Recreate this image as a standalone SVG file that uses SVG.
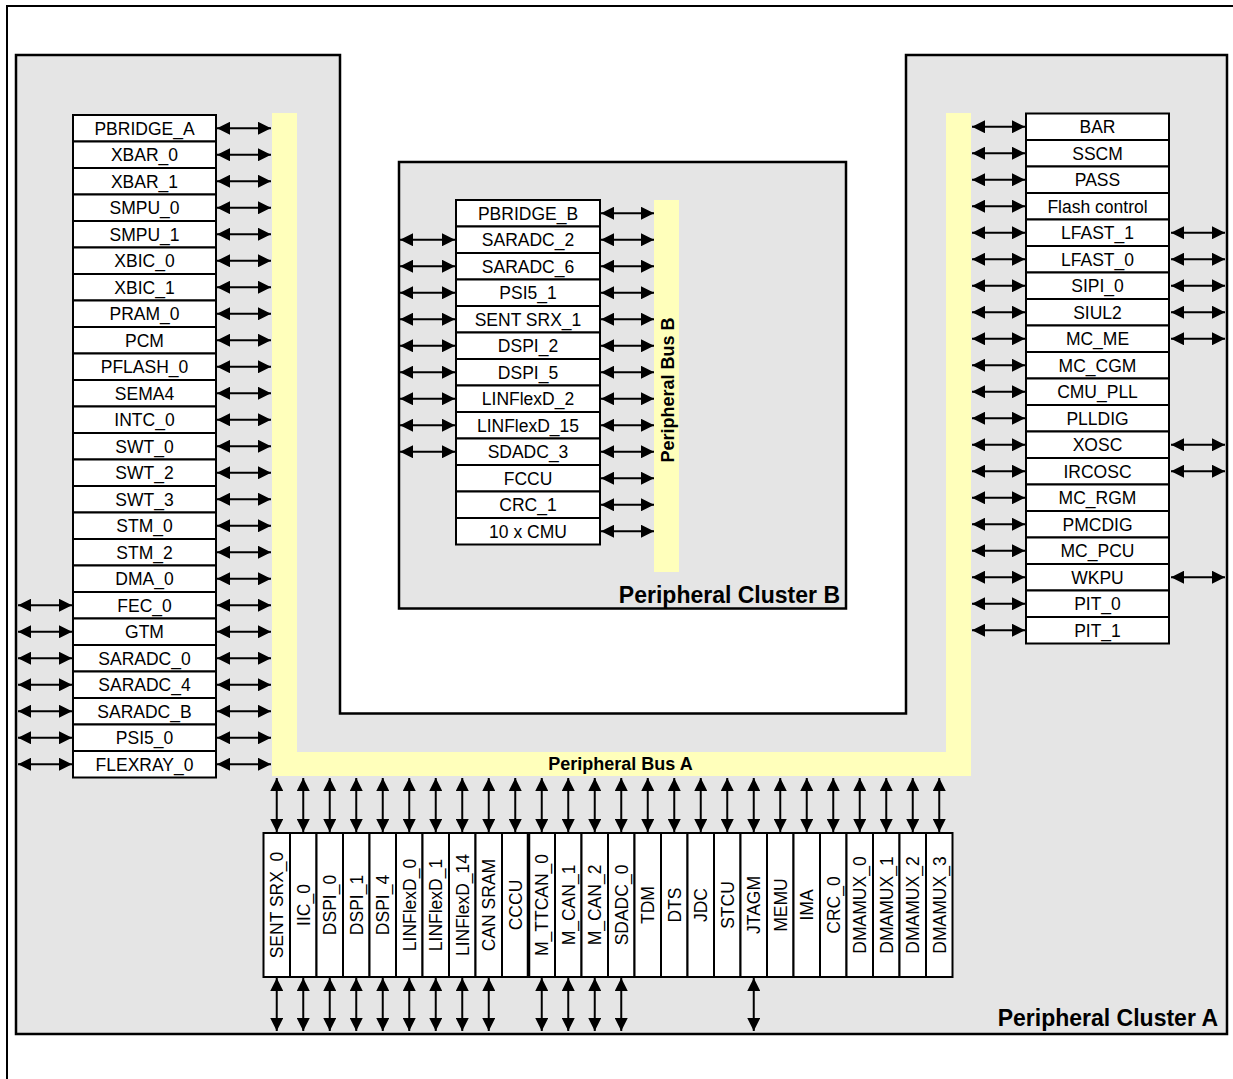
<svg xmlns="http://www.w3.org/2000/svg" width="1233" height="1079" viewBox="0 0 1233 1079">
<style>
.box{fill:#fff;stroke:#000;stroke-width:2}
.lbl{font-family:"Liberation Sans",Arial,sans-serif;font-size:17.5px;text-anchor:middle;fill:#000}
.big{font-family:"Liberation Sans",Arial,sans-serif;font-weight:bold;font-size:23px;text-anchor:end;fill:#000}
.bus{font-family:"Liberation Sans",Arial,sans-serif;font-weight:bold;font-size:18px;text-anchor:middle;fill:#000}
.cl{fill:#e5e5e5;stroke:#000;stroke-width:2.5}
.yb{fill:#ffffbb}
.cn line{stroke:#000;stroke-width:2;marker-start:url(#ah);marker-end:url(#ah)}
</style>
<defs>
<marker id="ah" viewBox="0 0 13 13" markerWidth="13" markerHeight="13" markerUnits="userSpaceOnUse" refX="13" refY="6.5" orient="auto-start-reverse">
<path d="M0,0 L13,6.5 L0,13 z" fill="#000"/>
</marker>
</defs>
<rect x="0" y="0" width="1233" height="1079" fill="#fff"/>
<rect x="7" y="6" width="1240" height="1100" fill="none" stroke="#000" stroke-width="2"/>
<g id="cluster-a">
<polygon class="cl" points="16,55 340,55 340,713.5 906,713.5 906,55 1227,55 1227,1034 16,1034"/>
<text class="big" x="1218" y="1026">Peripheral Cluster A</text>
</g>
<g id="cluster-b">
<rect class="cl" x="399" y="162" width="447" height="446.5"/>
<text class="big" x="840" y="603">Peripheral Cluster B</text>
</g>
<g id="bus-a">
<path class="yb" d="M272,113 H297 V752 H946 V113 H971 V776 H272 Z"/>
<text class="bus" x="620.5" y="770">Peripheral Bus A</text>
</g>
<g id="bus-b">
<rect class="yb" x="654" y="200" width="25" height="372"/>
<text class="bus" transform="translate(673.5,390) rotate(-90)">Peripheral Bus B</text>
</g>
<g id="left-list">
<g id="n-pbridge_a"><rect class="box" x="73" y="115" width="143" height="26.5"/><text class="lbl" x="144.5" y="134.75">PBRIDGE_A</text></g>
<g id="n-xbar_0"><rect class="box" x="73" y="141.5" width="143" height="26.5"/><text class="lbl" x="144.5" y="161.25">XBAR_0</text></g>
<g id="n-xbar_1"><rect class="box" x="73" y="168" width="143" height="26.5"/><text class="lbl" x="144.5" y="187.75">XBAR_1</text></g>
<g id="n-smpu_0"><rect class="box" x="73" y="194.5" width="143" height="26.5"/><text class="lbl" x="144.5" y="214.25">SMPU_0</text></g>
<g id="n-smpu_1"><rect class="box" x="73" y="221" width="143" height="26.5"/><text class="lbl" x="144.5" y="240.75">SMPU_1</text></g>
<g id="n-xbic_0"><rect class="box" x="73" y="247.5" width="143" height="26.5"/><text class="lbl" x="144.5" y="267.25">XBIC_0</text></g>
<g id="n-xbic_1"><rect class="box" x="73" y="274" width="143" height="26.5"/><text class="lbl" x="144.5" y="293.75">XBIC_1</text></g>
<g id="n-pram_0"><rect class="box" x="73" y="300.5" width="143" height="26.5"/><text class="lbl" x="144.5" y="320.25">PRAM_0</text></g>
<g id="n-pcm"><rect class="box" x="73" y="327" width="143" height="26.5"/><text class="lbl" x="144.5" y="346.75">PCM</text></g>
<g id="n-pflash_0"><rect class="box" x="73" y="353.5" width="143" height="26.5"/><text class="lbl" x="144.5" y="373.25">PFLASH_0</text></g>
<g id="n-sema4"><rect class="box" x="73" y="380" width="143" height="26.5"/><text class="lbl" x="144.5" y="399.75">SEMA4</text></g>
<g id="n-intc_0"><rect class="box" x="73" y="406.5" width="143" height="26.5"/><text class="lbl" x="144.5" y="426.25">INTC_0</text></g>
<g id="n-swt_0"><rect class="box" x="73" y="433" width="143" height="26.5"/><text class="lbl" x="144.5" y="452.75">SWT_0</text></g>
<g id="n-swt_2"><rect class="box" x="73" y="459.5" width="143" height="26.5"/><text class="lbl" x="144.5" y="479.25">SWT_2</text></g>
<g id="n-swt_3"><rect class="box" x="73" y="486" width="143" height="26.5"/><text class="lbl" x="144.5" y="505.75">SWT_3</text></g>
<g id="n-stm_0"><rect class="box" x="73" y="512.5" width="143" height="26.5"/><text class="lbl" x="144.5" y="532.25">STM_0</text></g>
<g id="n-stm_2"><rect class="box" x="73" y="539" width="143" height="26.5"/><text class="lbl" x="144.5" y="558.75">STM_2</text></g>
<g id="n-dma_0"><rect class="box" x="73" y="565.5" width="143" height="26.5"/><text class="lbl" x="144.5" y="585.25">DMA_0</text></g>
<g id="n-fec_0"><rect class="box" x="73" y="592" width="143" height="26.5"/><text class="lbl" x="144.5" y="611.75">FEC_0</text></g>
<g id="n-gtm"><rect class="box" x="73" y="618.5" width="143" height="26.5"/><text class="lbl" x="144.5" y="638.25">GTM</text></g>
<g id="n-saradc_0"><rect class="box" x="73" y="645" width="143" height="26.5"/><text class="lbl" x="144.5" y="664.75">SARADC_0</text></g>
<g id="n-saradc_4"><rect class="box" x="73" y="671.5" width="143" height="26.5"/><text class="lbl" x="144.5" y="691.25">SARADC_4</text></g>
<g id="n-saradc_b"><rect class="box" x="73" y="698" width="143" height="26.5"/><text class="lbl" x="144.5" y="717.75">SARADC_B</text></g>
<g id="n-psi5_0"><rect class="box" x="73" y="724.5" width="143" height="26.5"/><text class="lbl" x="144.5" y="744.25">PSI5_0</text></g>
<g id="n-flexray_0"><rect class="box" x="73" y="751" width="143" height="26.5"/><text class="lbl" x="144.5" y="770.75">FLEXRAY_0</text></g>
</g>
<g id="b-list">
<g id="n-pbridge_b"><rect class="box" x="456" y="200" width="144" height="26.5"/><text class="lbl" x="528" y="219.75">PBRIDGE_B</text></g>
<g id="n-saradc_2"><rect class="box" x="456" y="226.5" width="144" height="26.5"/><text class="lbl" x="528" y="246.25">SARADC_2</text></g>
<g id="n-saradc_6"><rect class="box" x="456" y="253" width="144" height="26.5"/><text class="lbl" x="528" y="272.75">SARADC_6</text></g>
<g id="n-psi5_1"><rect class="box" x="456" y="279.5" width="144" height="26.5"/><text class="lbl" x="528" y="299.25">PSI5_1</text></g>
<g id="n-sent_srx_1"><rect class="box" x="456" y="306" width="144" height="26.5"/><text class="lbl" x="528" y="325.75">SENT SRX_1</text></g>
<g id="n-dspi_2"><rect class="box" x="456" y="332.5" width="144" height="26.5"/><text class="lbl" x="528" y="352.25">DSPI_2</text></g>
<g id="n-dspi_5"><rect class="box" x="456" y="359" width="144" height="26.5"/><text class="lbl" x="528" y="378.75">DSPI_5</text></g>
<g id="n-linflexd_2"><rect class="box" x="456" y="385.5" width="144" height="26.5"/><text class="lbl" x="528" y="405.25">LINFlexD_2</text></g>
<g id="n-linflexd_15"><rect class="box" x="456" y="412" width="144" height="26.5"/><text class="lbl" x="528" y="431.75">LINFlexD_15</text></g>
<g id="n-sdadc_3"><rect class="box" x="456" y="438.5" width="144" height="26.5"/><text class="lbl" x="528" y="458.25">SDADC_3</text></g>
<g id="n-fccu"><rect class="box" x="456" y="465" width="144" height="26.5"/><text class="lbl" x="528" y="484.75">FCCU</text></g>
<g id="n-crc_1"><rect class="box" x="456" y="491.5" width="144" height="26.5"/><text class="lbl" x="528" y="511.25">CRC_1</text></g>
<g id="n-10xcmu"><rect class="box" x="456" y="518" width="144" height="26.5"/><text class="lbl" x="528" y="537.75">10 x CMU</text></g>
</g>
<g id="right-list">
<g id="n-bar"><rect class="box" x="1026" y="113.5" width="143" height="26.5"/><text class="lbl" x="1097.5" y="133.25">BAR</text></g>
<g id="n-sscm"><rect class="box" x="1026" y="140" width="143" height="26.5"/><text class="lbl" x="1097.5" y="159.75">SSCM</text></g>
<g id="n-pass"><rect class="box" x="1026" y="166.5" width="143" height="26.5"/><text class="lbl" x="1097.5" y="186.25">PASS</text></g>
<g id="n-flash"><rect class="box" x="1026" y="193" width="143" height="26.5"/><text class="lbl" x="1097.5" y="212.75">Flash control</text></g>
<g id="n-lfast_1"><rect class="box" x="1026" y="219.5" width="143" height="26.5"/><text class="lbl" x="1097.5" y="239.25">LFAST_1</text></g>
<g id="n-lfast_0"><rect class="box" x="1026" y="246" width="143" height="26.5"/><text class="lbl" x="1097.5" y="265.75">LFAST_0</text></g>
<g id="n-sipi_0"><rect class="box" x="1026" y="272.5" width="143" height="26.5"/><text class="lbl" x="1097.5" y="292.25">SIPI_0</text></g>
<g id="n-siul2"><rect class="box" x="1026" y="299" width="143" height="26.5"/><text class="lbl" x="1097.5" y="318.75">SIUL2</text></g>
<g id="n-mc_me"><rect class="box" x="1026" y="325.5" width="143" height="26.5"/><text class="lbl" x="1097.5" y="345.25">MC_ME</text></g>
<g id="n-mc_cgm"><rect class="box" x="1026" y="352" width="143" height="26.5"/><text class="lbl" x="1097.5" y="371.75">MC_CGM</text></g>
<g id="n-cmu_pll"><rect class="box" x="1026" y="378.5" width="143" height="26.5"/><text class="lbl" x="1097.5" y="398.25">CMU_PLL</text></g>
<g id="n-plldig"><rect class="box" x="1026" y="405" width="143" height="26.5"/><text class="lbl" x="1097.5" y="424.75">PLLDIG</text></g>
<g id="n-xosc"><rect class="box" x="1026" y="431.5" width="143" height="26.5"/><text class="lbl" x="1097.5" y="451.25">XOSC</text></g>
<g id="n-ircosc"><rect class="box" x="1026" y="458" width="143" height="26.5"/><text class="lbl" x="1097.5" y="477.75">IRCOSC</text></g>
<g id="n-mc_rgm"><rect class="box" x="1026" y="484.5" width="143" height="26.5"/><text class="lbl" x="1097.5" y="504.25">MC_RGM</text></g>
<g id="n-pmcdig"><rect class="box" x="1026" y="511" width="143" height="26.5"/><text class="lbl" x="1097.5" y="530.75">PMCDIG</text></g>
<g id="n-mc_pcu"><rect class="box" x="1026" y="537.5" width="143" height="26.5"/><text class="lbl" x="1097.5" y="557.25">MC_PCU</text></g>
<g id="n-wkpu"><rect class="box" x="1026" y="564" width="143" height="26.5"/><text class="lbl" x="1097.5" y="583.75">WKPU</text></g>
<g id="n-pit_0"><rect class="box" x="1026" y="590.5" width="143" height="26.5"/><text class="lbl" x="1097.5" y="610.25">PIT_0</text></g>
<g id="n-pit_1"><rect class="box" x="1026" y="617" width="143" height="26.5"/><text class="lbl" x="1097.5" y="636.75">PIT_1</text></g>
</g>
<g id="bottom-list">
<g id="n-sent_srx_0"><rect class="box" x="263.5" y="833" width="26.5" height="144"/><text class="lbl" transform="translate(283.25,905) rotate(-90)">SENT SRX_0</text></g>
<g id="n-iic_0"><rect class="box" x="290" y="833" width="26.5" height="144"/><text class="lbl" transform="translate(309.75,905) rotate(-90)">IIC_0</text></g>
<g id="n-dspi_0"><rect class="box" x="316.5" y="833" width="26.5" height="144"/><text class="lbl" transform="translate(336.25,905) rotate(-90)">DSPI_0</text></g>
<g id="n-dspi_1"><rect class="box" x="343" y="833" width="26.5" height="144"/><text class="lbl" transform="translate(362.75,905) rotate(-90)">DSPI_1</text></g>
<g id="n-dspi_4"><rect class="box" x="369.5" y="833" width="26.5" height="144"/><text class="lbl" transform="translate(389.25,905) rotate(-90)">DSPI_4</text></g>
<g id="n-linflexd_0"><rect class="box" x="396" y="833" width="26.5" height="144"/><text class="lbl" transform="translate(415.75,905) rotate(-90)">LINFlexD_0</text></g>
<g id="n-linflexd_1"><rect class="box" x="422.5" y="833" width="26.5" height="144"/><text class="lbl" transform="translate(442.25,905) rotate(-90)">LINFlexD_1</text></g>
<g id="n-linflexd_14"><rect class="box" x="449" y="833" width="26.5" height="144"/><text class="lbl" transform="translate(468.75,905) rotate(-90)">LINFlexD_14</text></g>
<g id="n-can_sram"><rect class="box" x="475.5" y="833" width="26.5" height="144"/><text class="lbl" transform="translate(495.25,905) rotate(-90)">CAN SRAM</text></g>
<g id="n-cccu"><rect class="box" x="502" y="833" width="26.5" height="144"/><text class="lbl" transform="translate(521.75,905) rotate(-90)">CCCU</text></g>
<g id="n-m_ttcan_0"><rect class="box" x="528.5" y="833" width="26.5" height="144"/><text class="lbl" transform="translate(548.25,905) rotate(-90)">M_TTCAN_0</text></g>
<g id="n-m_can_1"><rect class="box" x="555" y="833" width="26.5" height="144"/><text class="lbl" transform="translate(574.75,905) rotate(-90)">M_CAN_1</text></g>
<g id="n-m_can_2"><rect class="box" x="581.5" y="833" width="26.5" height="144"/><text class="lbl" transform="translate(601.25,905) rotate(-90)">M_CAN_2</text></g>
<g id="n-sdadc_0"><rect class="box" x="608" y="833" width="26.5" height="144"/><text class="lbl" transform="translate(627.75,905) rotate(-90)">SDADC_0</text></g>
<g id="n-tdm"><rect class="box" x="634.5" y="833" width="26.5" height="144"/><text class="lbl" transform="translate(654.25,905) rotate(-90)">TDM</text></g>
<g id="n-dts"><rect class="box" x="661" y="833" width="26.5" height="144"/><text class="lbl" transform="translate(680.75,905) rotate(-90)">DTS</text></g>
<g id="n-jdc"><rect class="box" x="687.5" y="833" width="26.5" height="144"/><text class="lbl" transform="translate(707.25,905) rotate(-90)">JDC</text></g>
<g id="n-stcu"><rect class="box" x="714" y="833" width="26.5" height="144"/><text class="lbl" transform="translate(733.75,905) rotate(-90)">STCU</text></g>
<g id="n-jtagm"><rect class="box" x="740.5" y="833" width="26.5" height="144"/><text class="lbl" transform="translate(760.25,905) rotate(-90)">JTAGM</text></g>
<g id="n-memu"><rect class="box" x="767" y="833" width="26.5" height="144"/><text class="lbl" transform="translate(786.75,905) rotate(-90)">MEMU</text></g>
<g id="n-ima"><rect class="box" x="793.5" y="833" width="26.5" height="144"/><text class="lbl" transform="translate(813.25,905) rotate(-90)">IMA</text></g>
<g id="n-crc_0"><rect class="box" x="820" y="833" width="26.5" height="144"/><text class="lbl" transform="translate(839.75,905) rotate(-90)">CRC_0</text></g>
<g id="n-dmamux_0"><rect class="box" x="846.5" y="833" width="26.5" height="144"/><text class="lbl" transform="translate(866.25,905) rotate(-90)">DMAMUX_0</text></g>
<g id="n-dmamux_1"><rect class="box" x="873" y="833" width="26.5" height="144"/><text class="lbl" transform="translate(892.75,905) rotate(-90)">DMAMUX_1</text></g>
<g id="n-dmamux_2"><rect class="box" x="899.5" y="833" width="26.5" height="144"/><text class="lbl" transform="translate(919.25,905) rotate(-90)">DMAMUX_2</text></g>
<g id="n-dmamux_3"><rect class="box" x="926" y="833" width="26.5" height="144"/><text class="lbl" transform="translate(945.75,905) rotate(-90)">DMAMUX_3</text></g>
<line x1="528.5" y1="833" x2="528.5" y2="977" stroke="#000" stroke-width="3.5"/>
</g>
<g id="connectors" class="cn">
<line x1="217" y1="128.25" x2="271" y2="128.25"/>
<line x1="217" y1="154.75" x2="271" y2="154.75"/>
<line x1="217" y1="181.25" x2="271" y2="181.25"/>
<line x1="217" y1="207.75" x2="271" y2="207.75"/>
<line x1="217" y1="234.25" x2="271" y2="234.25"/>
<line x1="217" y1="260.75" x2="271" y2="260.75"/>
<line x1="217" y1="287.25" x2="271" y2="287.25"/>
<line x1="217" y1="313.75" x2="271" y2="313.75"/>
<line x1="217" y1="340.25" x2="271" y2="340.25"/>
<line x1="217" y1="366.75" x2="271" y2="366.75"/>
<line x1="217" y1="393.25" x2="271" y2="393.25"/>
<line x1="217" y1="419.75" x2="271" y2="419.75"/>
<line x1="217" y1="446.25" x2="271" y2="446.25"/>
<line x1="217" y1="472.75" x2="271" y2="472.75"/>
<line x1="217" y1="499.25" x2="271" y2="499.25"/>
<line x1="217" y1="525.75" x2="271" y2="525.75"/>
<line x1="217" y1="552.25" x2="271" y2="552.25"/>
<line x1="217" y1="578.75" x2="271" y2="578.75"/>
<line x1="217" y1="605.25" x2="271" y2="605.25"/>
<line x1="217" y1="631.75" x2="271" y2="631.75"/>
<line x1="217" y1="658.25" x2="271" y2="658.25"/>
<line x1="217" y1="684.75" x2="271" y2="684.75"/>
<line x1="217" y1="711.25" x2="271" y2="711.25"/>
<line x1="217" y1="737.75" x2="271" y2="737.75"/>
<line x1="217" y1="764.25" x2="271" y2="764.25"/>
<line x1="18" y1="605.25" x2="72" y2="605.25"/>
<line x1="18" y1="631.75" x2="72" y2="631.75"/>
<line x1="18" y1="658.25" x2="72" y2="658.25"/>
<line x1="18" y1="684.75" x2="72" y2="684.75"/>
<line x1="18" y1="711.25" x2="72" y2="711.25"/>
<line x1="18" y1="737.75" x2="72" y2="737.75"/>
<line x1="18" y1="764.25" x2="72" y2="764.25"/>
<line x1="601" y1="213.25" x2="654" y2="213.25"/>
<line x1="601" y1="239.75" x2="654" y2="239.75"/>
<line x1="601" y1="266.25" x2="654" y2="266.25"/>
<line x1="601" y1="292.75" x2="654" y2="292.75"/>
<line x1="601" y1="319.25" x2="654" y2="319.25"/>
<line x1="601" y1="345.75" x2="654" y2="345.75"/>
<line x1="601" y1="372.25" x2="654" y2="372.25"/>
<line x1="601" y1="398.75" x2="654" y2="398.75"/>
<line x1="601" y1="425.25" x2="654" y2="425.25"/>
<line x1="601" y1="451.75" x2="654" y2="451.75"/>
<line x1="601" y1="478.25" x2="654" y2="478.25"/>
<line x1="601" y1="504.75" x2="654" y2="504.75"/>
<line x1="601" y1="531.25" x2="654" y2="531.25"/>
<line x1="400" y1="239.75" x2="455" y2="239.75"/>
<line x1="400" y1="266.25" x2="455" y2="266.25"/>
<line x1="400" y1="292.75" x2="455" y2="292.75"/>
<line x1="400" y1="319.25" x2="455" y2="319.25"/>
<line x1="400" y1="345.75" x2="455" y2="345.75"/>
<line x1="400" y1="372.25" x2="455" y2="372.25"/>
<line x1="400" y1="398.75" x2="455" y2="398.75"/>
<line x1="400" y1="425.25" x2="455" y2="425.25"/>
<line x1="400" y1="451.75" x2="455" y2="451.75"/>
<line x1="972" y1="126.75" x2="1025" y2="126.75"/>
<line x1="972" y1="153.25" x2="1025" y2="153.25"/>
<line x1="972" y1="179.75" x2="1025" y2="179.75"/>
<line x1="972" y1="206.25" x2="1025" y2="206.25"/>
<line x1="972" y1="232.75" x2="1025" y2="232.75"/>
<line x1="972" y1="259.25" x2="1025" y2="259.25"/>
<line x1="972" y1="285.75" x2="1025" y2="285.75"/>
<line x1="972" y1="312.25" x2="1025" y2="312.25"/>
<line x1="972" y1="338.75" x2="1025" y2="338.75"/>
<line x1="972" y1="365.25" x2="1025" y2="365.25"/>
<line x1="972" y1="391.75" x2="1025" y2="391.75"/>
<line x1="972" y1="418.25" x2="1025" y2="418.25"/>
<line x1="972" y1="444.75" x2="1025" y2="444.75"/>
<line x1="972" y1="471.25" x2="1025" y2="471.25"/>
<line x1="972" y1="497.75" x2="1025" y2="497.75"/>
<line x1="972" y1="524.25" x2="1025" y2="524.25"/>
<line x1="972" y1="550.75" x2="1025" y2="550.75"/>
<line x1="972" y1="577.25" x2="1025" y2="577.25"/>
<line x1="972" y1="603.75" x2="1025" y2="603.75"/>
<line x1="972" y1="630.25" x2="1025" y2="630.25"/>
<line x1="1171" y1="232.75" x2="1225" y2="232.75"/>
<line x1="1171" y1="259.25" x2="1225" y2="259.25"/>
<line x1="1171" y1="285.75" x2="1225" y2="285.75"/>
<line x1="1171" y1="312.25" x2="1225" y2="312.25"/>
<line x1="1171" y1="338.75" x2="1225" y2="338.75"/>
<line x1="1171" y1="444.75" x2="1225" y2="444.75"/>
<line x1="1171" y1="471.25" x2="1225" y2="471.25"/>
<line x1="1171" y1="577.25" x2="1225" y2="577.25"/>
<line x1="276.75" y1="778" x2="276.75" y2="832"/>
<line x1="303.25" y1="778" x2="303.25" y2="832"/>
<line x1="329.75" y1="778" x2="329.75" y2="832"/>
<line x1="356.25" y1="778" x2="356.25" y2="832"/>
<line x1="382.75" y1="778" x2="382.75" y2="832"/>
<line x1="409.25" y1="778" x2="409.25" y2="832"/>
<line x1="435.75" y1="778" x2="435.75" y2="832"/>
<line x1="462.25" y1="778" x2="462.25" y2="832"/>
<line x1="488.75" y1="778" x2="488.75" y2="832"/>
<line x1="515.25" y1="778" x2="515.25" y2="832"/>
<line x1="541.75" y1="778" x2="541.75" y2="832"/>
<line x1="568.25" y1="778" x2="568.25" y2="832"/>
<line x1="594.75" y1="778" x2="594.75" y2="832"/>
<line x1="621.25" y1="778" x2="621.25" y2="832"/>
<line x1="647.75" y1="778" x2="647.75" y2="832"/>
<line x1="674.25" y1="778" x2="674.25" y2="832"/>
<line x1="700.75" y1="778" x2="700.75" y2="832"/>
<line x1="727.25" y1="778" x2="727.25" y2="832"/>
<line x1="753.75" y1="778" x2="753.75" y2="832"/>
<line x1="780.25" y1="778" x2="780.25" y2="832"/>
<line x1="806.75" y1="778" x2="806.75" y2="832"/>
<line x1="833.25" y1="778" x2="833.25" y2="832"/>
<line x1="859.75" y1="778" x2="859.75" y2="832"/>
<line x1="886.25" y1="778" x2="886.25" y2="832"/>
<line x1="912.75" y1="778" x2="912.75" y2="832"/>
<line x1="939.25" y1="778" x2="939.25" y2="832"/>
<line x1="276.75" y1="978" x2="276.75" y2="1031"/>
<line x1="303.25" y1="978" x2="303.25" y2="1031"/>
<line x1="329.75" y1="978" x2="329.75" y2="1031"/>
<line x1="356.25" y1="978" x2="356.25" y2="1031"/>
<line x1="382.75" y1="978" x2="382.75" y2="1031"/>
<line x1="409.25" y1="978" x2="409.25" y2="1031"/>
<line x1="435.75" y1="978" x2="435.75" y2="1031"/>
<line x1="462.25" y1="978" x2="462.25" y2="1031"/>
<line x1="488.75" y1="978" x2="488.75" y2="1031"/>
<line x1="541.75" y1="978" x2="541.75" y2="1031"/>
<line x1="568.25" y1="978" x2="568.25" y2="1031"/>
<line x1="594.75" y1="978" x2="594.75" y2="1031"/>
<line x1="621.25" y1="978" x2="621.25" y2="1031"/>
<line x1="753.75" y1="978" x2="753.75" y2="1031"/>
</g>
</svg>
